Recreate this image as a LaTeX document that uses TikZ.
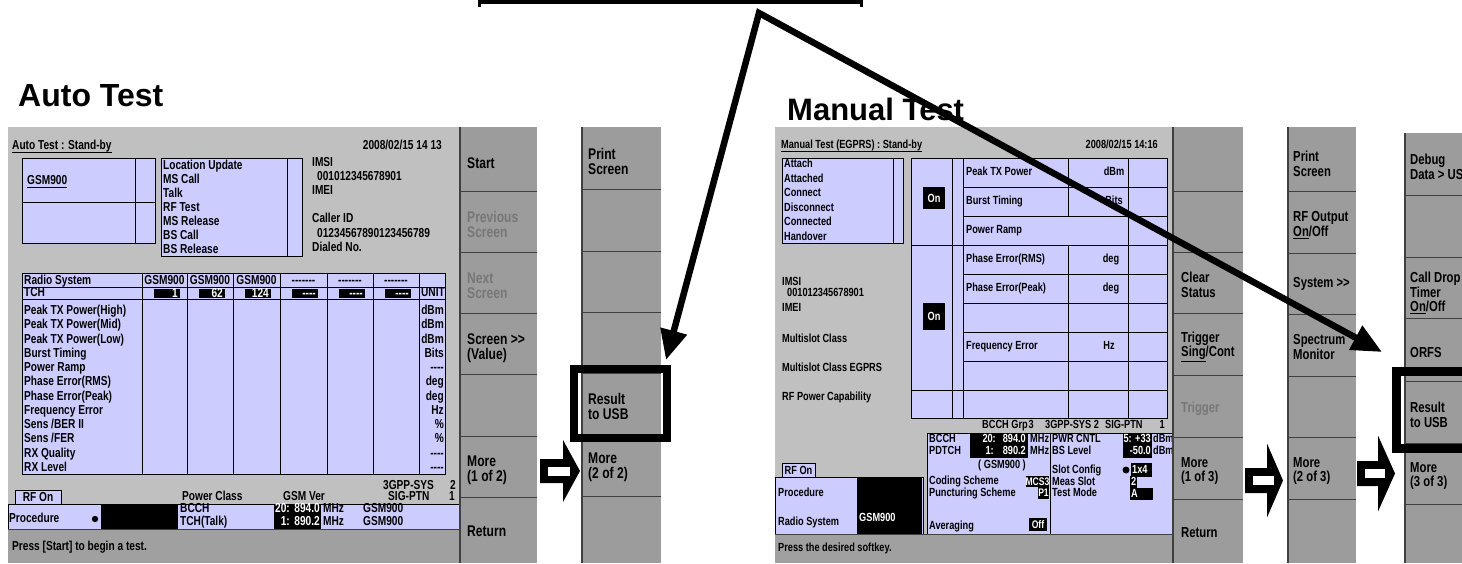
\documentclass[tikz,border=0pt]{standalone}
\usepackage{fontspec}
\usetikzlibrary{arrows.meta}
\newfontfamily\cnd[FakeStretch=0.78]{Liberation Sans}
\newfontfamily\hel{Liberation Sans}
\definecolor{scrbg}{HTML}{C0C0C0}
\definecolor{lav}{HTML}{CCCCFF}
\definecolor{skg}{HTML}{9C9C9C}
\definecolor{msg}{HTML}{A0A0A0}
\definecolor{dim}{HTML}{777777}
\definecolor{dvd}{HTML}{404040}
\newcommand\skcol[4]{%
  \fill[skg] (#1,#3) rectangle (#2,563);
  \draw[dvd, line width=1.5pt] (#1,#3) -- (#1,563);
  \foreach \yy in {#4} \draw[dvd, line width=0.8pt] (#1,\yy) -- (#2,\yy);}
\newcommand\hollowarr[6]{%
  \fill ({#1},{#4-#5}) -- ({#2},{#4-#5}) -- ({#2},{#4-#6}) -- ({#3},{#4}) -- ({#2},{#4+#6}) -- ({#2},{#4+#5}) -- ({#1},{#4+#5}) -- cycle;
  \fill[white] ({#1+8},{#4-4.5}) rectangle ({#2+7},{#4+4.5});}
\newcommand\dsh{-{}-{}-{}-}
\tikzset{
  base/.style={inner sep=0pt, text height=9.5pt, text depth=2.5pt},
  tx/.style={base, font=\cnd\bfseries\fontsize{13}{14}\selectfont, anchor=west},
  txr/.style={tx, anchor=east},
  txc/.style={tx, anchor=center},
  rx/.style={base, font=\cnd\bfseries\fontsize{11.8}{13}\selectfont, anchor=west},
  rxr/.style={rx, anchor=east},
  rxc/.style={rx, anchor=center},
  rxs/.style={rxc, font=\cnd\bfseries\fontsize{11}{12}\selectfont},
  wt/.style={text=white},
  sk/.style={font=\cnd\bfseries\fontsize{15.5}{15}\selectfont, inner sep=0pt, anchor=west, align=left},
  skr/.style={font=\cnd\bfseries\fontsize{14.5}{14.5}\selectfont, inner sep=0pt, anchor=west, align=left},
  lavbox/.style={fill=lav, draw=black, line width=0.9pt},
  grid/.style={draw=black, line width=0.9pt},
  ul/.style={draw=black, line width=0.8pt},
  title/.style={font=\hel\bfseries\fontsize{32}{36}\selectfont, inner sep=0pt, anchor=base west},
  bigarrow/.style={line width=6.5pt, line join=miter, {Triangle[length=30pt,width=26pt]}-{Triangle[length=30pt,width=26pt]}},
  selbox/.style={draw=black, line width=8pt},
}
\begin{document}
\begin{tikzpicture}[x=1pt,y=-1pt]
\useasboundingbox (0,0) rectangle (1462,563);
\clip (0,0) rectangle (1462,563);
\fill[white] (0,0) rectangle (1462,563);

% top underline fragment
\fill (478,0) rectangle (863,3.5);
\fill (478,0) rectangle (481,7);
\fill (860,0) rectangle (863,7);

% titles
\node[title] (ttlA) at (18,106) {Auto Test};
\node[title, font=\hel\bfseries\fontsize{31}{36}\selectfont] (ttlM) at (787,120) {Manual Test};

%================ LEFT SCREEN =================
\fill[scrbg] (8,127) rectangle (460,529);
\fill[msg] (8,529) rectangle (460,563);
\node[tx] (lT) at (12,146) {Auto Test : Stand-by};
\draw[ul] (lT.south west) -- (lT.south east);
\node[txr] (lD) at (442,146) {2008/02/15 14 13};

\filldraw[lavbox] (22,158) rectangle (155,243);
\draw[grid] (135,158) -- (135,243) (22,202) -- (155,202);
\node[tx] (lG) at (27,181) {GSM900};
\draw[ul] (lG.south west) -- (lG.south east);

\filldraw[lavbox] (161,158) rectangle (302,256);
\draw[grid] (287,158) -- (287,256);
\foreach \t [count=\i from 0] in {Location Update,MS Call,Talk,RF Test,MS Release,BS Call,BS Release}
  \node[tx] (li\i) at (163,{166+14*\i}) {\t};

\node[tx] (lim) at (312,163) {IMSI};
\node[tx] (limn) at (317,177) {001012345678901};
\node[tx] (lime) at (312,191) {IMEI};
\node[tx] (lcid) at (312,219) {Caller ID};
\node[tx] (lcidn) at (317,234) {01234567890123456789};
\node[tx] (ldial) at (312,248) {Dialed No.};

% table
\filldraw[lavbox] (22,273) rectangle (445,474);
\draw[grid] (22,287) -- (445,287) (22,299) -- (445,299);
\foreach \c in {142,187,233,280,327,373,419} \draw[grid] (\c,273) -- (\c,474);
\node[tx] (lrs) at (24,281) {Radio System};
\foreach \c [count=\i] in {164.5,210,256.5} \node[txc] (hg\i) at (\c,281) {GSM900};
\foreach \c [count=\i] in {303.5,350,396} \node[txc] (hd\i) at (\c,281) {-{}-{}-{}-{}-{}-{}-};
\node[tx] (ltch) at (24,293) {TCH};
\foreach \c/\v [count=\i] in {142/1,187/62,233/124,280/\dsh,327/\dsh,373/\dsh} {
  \fill ({\c+12},288.5) rectangle ({\c+38},298);
  \node[txr,wt] (tch\i) at ({\c+36},293.5) {\v};
}
\node[txr] (lunit) at (445,293) {UNIT};
\foreach \t [count=\i from 0] in {Peak TX Power(High),Peak TX Power(Mid),Peak TX Power(Low),Burst Timing,Power Ramp,Phase Error(RMS),Phase Error(Peak),Frequency Error,Sens /BER II,Sens /FER,RX Quality,RX Level}
  \node[tx] (lrow\i) at (24,{311+14.27*\i}) {\t};
\foreach \u [count=\i from 0] in {dBm,dBm,dBm,Bits,\dsh,deg,deg,Hz,\%,\%,\dsh,\dsh}
  \node[txr] (lu\i) at (444,{311+14.27*\i}) {\u};

\node[tx] (lsys) at (383,486) {3GPP-SYS};
\node[txr] (lsysn) at (456,486) {2};
\node[tx] (lsig) at (388,497) {SIG-PTN};
\node[txr] (lsign) at (455,497) {1};
\filldraw[lavbox] (15,490) rectangle (61,504);
\node[txc] (lrf) at (38,497.5) {RF On};
\node[tx] (lpc) at (182,497) {Power Class};
\node[tx] (lgv) at (283,497) {GSM Ver};

\filldraw[lavbox] (8,504) rectangle (460,529);
\fill (101,504) rectangle (177,529);
\fill (95,519) circle (3.2);
\node[tx] (lproc) at (9,519) {Procedure};
\draw[grid] (177,504) -- (177,529);
\node[tx] (lbcch) at (180,509) {BCCH};
\node[tx] (ltt) at (180,522) {TCH(Talk)};
\fill (274,504) rectangle (321,529);
\node[txr,wt] (lf1a) at (290,509) {20:};
\node[txr,wt] (lf1b) at (320,509) {894.0};
\node[txr,wt] (lf2a) at (290,522) {1:};
\node[txr,wt] (lf2b) at (320,522) {890.2};
\node[tx] (lm1) at (323,509) {MHz};
\node[tx] (lm2) at (323,522) {MHz};
\node[tx] (lg1) at (363,509) {GSM900};
\node[tx] (lg2) at (363,522) {GSM900};
\draw[dvd] (8,529) -- (460,529);
\node[tx] (lmsg) at (12,547) {Press [Start] to begin a test.};

% left softkeys
\skcol{460}{537}{127}{191,252,313,374,436,497}
\node[sk] (k1) at (467,163) {Start};
\node[sk,text=dim] (k2) at (467,224) {Previous\\Screen};
\node[sk,text=dim] (k3) at (467,286) {Next\\Screen};
\node[sk] (k4) at (467,348) {Screen >{}>\\(Value)};
\node[sk] (k5) at (467,470) {More\\(1 of 2)};
\node[sk] (k6) at (467,531) {Return};

\skcol{582}{661}{127}{189,251,312,373,434,496}
\node[sk] (m1) at (588,161) {Print\\Screen};
\node[sk] (m2) at (588,406) {Result\\to USB};
\node[sk] (m3) at (588,467) {More\\(2 of 2)};
\draw[selbox] (574,369) rectangle (667,438);
\hollowarr{540}{563}{580}{471}{12}{31}

%================ RIGHT SCREEN =================
\fill[scrbg] (775,127) rectangle (1173,534);
\fill[msg] (775,534) rectangle (1173,563);
\node[rx] (rT) at (781,145) {Manual Test (EGPRS) : Stand-by};
\draw[ul] (rT.south west) -- (rT.south east);
\node[rxr] (rD) at (1158,145) {2008/02/15 14:16};

\filldraw[lavbox] (782,158) rectangle (903,243);
\draw[grid] (893,158) -- (893,243);
\foreach \t [count=\i from 0] in {Attach,Attached,Connect,Disconnect,Connected,Handover}
  \node[rx] (ri\i) at (784,{164+14.6*\i}) {\t};

\filldraw[lavbox] (911,158) rectangle (1167,418);
\draw[grid] (952,158) -- (952,418) (963,158) -- (963,418) (1128,158) -- (1128,418);
\draw[grid] (1068,158) -- (1068,216) (1068,245) -- (1068,418);
\draw[grid] (911,245) -- (1167,245) (911,390) -- (1167,390);
\foreach \y in {187,216,274,303,332,361} \draw[grid] (963,\y) -- (1167,\y);
\node[rx] (rm1) at (966,172) {Peak TX Power};
\node[rxc] (ru1) at (1114,172) {dBm};
\node[rx] (rm2) at (966,201) {Burst Timing};
\node[rxc] (ru2) at (1114,201) {Bits};
\node[rx] (rm3) at (966,230) {Power Ramp};
\node[rx] (rm4) at (966,259) {Phase Error(RMS)};
\node[rxc] (ru4) at (1111,259) {deg};
\node[rx] (rm5) at (966,288) {Phase Error(Peak)};
\node[rxc] (ru5) at (1111,288) {deg};
\node[rx] (rm6) at (966,346) {Frequency Error};
\node[rxc] (ru6) at (1109,346) {Hz};
\fill (923,187) rectangle (945,209);
\node[rxc,wt] (ron1) at (934,198.5) {On};
\fill (923,303) rectangle (945,330);
\node[rxc,wt] (ron2) at (934,316.5) {On};

\node[rx] (rim) at (782,282) {IMSI};
\node[rx] (rimn) at (787,293) {001012345678901};
\node[rx] (rime) at (782,308) {IMEI};
\node[rx] (rms) at (782,339) {Multislot Class};
\node[rx] (rmse) at (782,368) {Multislot Class EGPRS};
\node[rx] (rrfp) at (782,397) {RF Power Capability};

\node[rx] (rbg) at (982,425) {BCCH Grp};
\node[rxr] (rbgn) at (1034,425) {3};
\node[rx] (rsys) at (1045,425) {3GPP-SYS 2};
\node[rx] (rsig) at (1105,425) {SIG-PTN};
\node[rxr] (rsign) at (1165,425) {1};

\filldraw[lavbox] (782,463) rectangle (815,477);
\node[rxc] (rrf) at (798.5,470.5) {RF On};
\filldraw[lavbox] (775,477) rectangle (923,534);
\fill (857,477) rectangle (922,534);
\node[rx] (rproc) at (778,493) {Procedure};
\node[rx] (rrs) at (778,522) {Radio System};
\node[rx,wt] (rgsm) at (859,518) {GSM900};

\filldraw[lavbox] (927,433) rectangle (1173,534);
\draw[grid] (1050,433) -- (1050,534);
\node[rx] (rb1) at (929,439) {BCCH};
\node[rx] (rb2) at (929,451) {PDTCH};
\fill (970,433) rectangle (1028,458);
\node[rxr,wt] (rf1a) at (996,439) {20:};
\node[rxr,wt] (rf1b) at (1026,439) {894.0};
\node[rxr,wt] (rf2a) at (994,451) {1:};
\node[rxr,wt] (rf2b) at (1026,451) {890.2};
\node[rx] (rmhz1) at (1030,439) {MHz};
\node[rx] (rmhz2) at (1030,451) {MHz};
\node[rxc] (rgs) at (1002,465) {( GSM900 )};
\node[rx] (rcs) at (929,481) {Coding Scheme};
\fill (1026,476) rectangle (1049,487);
\node[rxs,wt] (rmcs) at (1037.5,481.5) {MCS3};
\node[rx] (rps) at (929,493) {Puncturing Scheme};
\fill (1038,487) rectangle (1049,499);
\node[rxs,wt] (rp1) at (1043.5,493) {P1};
\node[rx] (rav) at (929,526) {Averaging};
\fill (1029,518) rectangle (1047,531);
\node[rxs,wt] (roff) at (1038,524.5) {Off};

\node[rx] (rpw) at (1052,439) {PWR CNTL};
\fill (1123,433) rectangle (1152,445);
\node[rxr,wt] (rpwv) at (1151,439) {5: +33};
\node[rx] (rdb1) at (1153,439) {dBm};
\node[rx] (rbs) at (1052,451) {BS Level};
\fill (1123,445) rectangle (1152,458);
\node[rxr,wt] (rbsv) at (1151,451) {-50.0};
\node[rx] (rdb2) at (1153,451) {dBm};
\node[rx] (rsc) at (1052,470) {Slot Config};
\fill (1126,470) circle (3.5);
\fill (1131,463) rectangle (1152,477);
\node[rx,wt] (rscv) at (1132,470) {1x4};
\node[rx] (rmsl) at (1052,482) {Meas Slot};
\fill (1130,476) rectangle (1137,488);
\node[rx,wt] (rmslv) at (1131,482) {2};
\node[rx] (rtm) at (1052,493) {Test Mode};
\fill (1130,488) rectangle (1153,500);
\node[rx,wt] (rtmv) at (1131,494) {A};
\draw[dvd] (775,534) -- (1173,534);
\node[rx] (rmsg) at (778,548) {Press the desired softkey.};

% right softkeys
\skcol{1173}{1243}{127}{191,252,313,375,437,499}
\node[skr] (r1a) at (1181,285) {Clear\\Status};
\node[skr] (r1b) at (1181,347) {Trigger\\\underline{Sing}/Cont};
\node[skr,text=dim] (r1c) at (1181,409) {Trigger};
\node[skr] (r1d) at (1181,471) {More\\(1 of 3)};
\node[skr] (r1e) at (1181,533) {Return};

\skcol{1288}{1356}{127}{191,253,314,376,437,499}
\node[skr] (r2a) at (1293,164) {Print\\Screen};
\node[skr] (r2b) at (1293,225) {RF Output\\\underline{On}/Off};
\node[skr] (r2c) at (1293,284) {System >{}>};
\node[skr] (r2d) at (1293,347) {Spectrum\\Monitor};
\node[skr] (r2e) at (1293,471) {More\\(2 of 3)};

\skcol{1405}{1462}{133}{195,257,318,381,443,504}
\node[skr] (r3a) at (1410,167) {Debug\\Data > USB};
\node[skr] (r3b) at (1410,293) {Call Drop\\Timer\\\underline{On}/Off};
\node[skr] (r3c) at (1410,353) {ORFS};
\node[skr] (r3d) at (1410,415) {Result\\to USB};
\node[skr] (r3e) at (1410,476) {More\\(3 of 3)};
\draw[selbox, line width=9pt] (1396.5,371.5) rectangle (1480,448.5);

\hollowarr{1245}{1267}{1283}{480.5}{12.5}{37}
\hollowarr{1357}{1378}{1395}{473.5}{12.5}{38}

% big pointer arrows
\coordinate (apex) at (759,13);
\coordinate (ltip) at (666,360);
\coordinate (rtip) at (1382,352);
\draw[bigarrow] (ltip) -- (apex) -- (rtip);
\end{tikzpicture}
\end{document}
